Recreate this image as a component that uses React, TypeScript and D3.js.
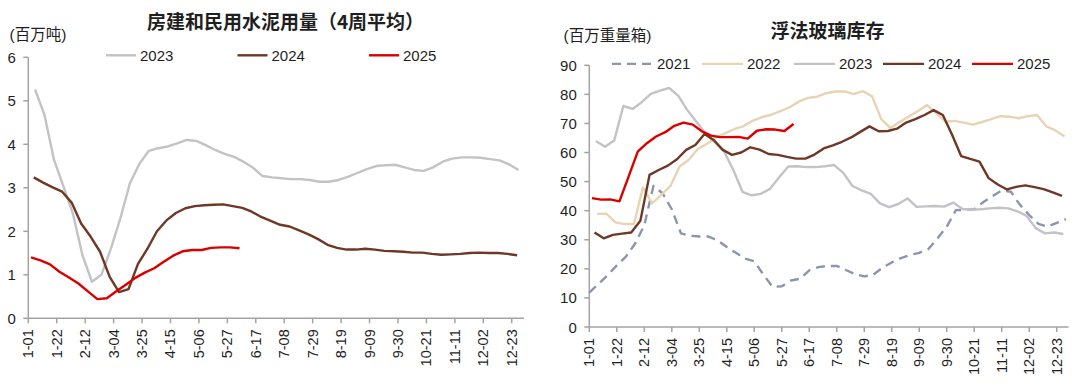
import * as d3 from 'd3'
import React from 'react'

// x axis: day of year (leap-year calendar), ticks every 3 weeks
const tickLabels = ['1-01', '1-22', '2-12', '3-04', '3-25', '4-15', '5-06', '5-27', '6-17', '7-08', '7-29', '8-19', '9-09', '9-30', '10-21', '11-11', '12-02', '12-23']

// cement usage, million tonnes, 4-week average (weekly readings)
const cementYears = ['2023', '2024', '2025']
const cementFirstDay = [5, 4, 2]
const cement2023 = [
  5.26, 4.67, 3.64, 3.03, 2.4, 1.45, 0.84, 1.0, 1.6, 2.3,
  3.1, 3.55, 3.85, 3.91, 3.95, 4.02, 4.1, 4.08, 3.98, 3.87,
  3.78, 3.71, 3.6, 3.46, 3.27, 3.24, 3.22, 3.2, 3.2, 3.18,
  3.14, 3.14, 3.18, 3.25, 3.34, 3.43, 3.5, 3.52, 3.53, 3.47,
  3.41, 3.39, 3.47, 3.6, 3.67, 3.7, 3.7, 3.69, 3.66, 3.63,
  3.54, 3.41,
]
const cement2024 = [
  3.24, 3.12, 3.01, 2.91, 2.66, 2.18, 1.88, 1.53, 0.96, 0.6,
  0.67, 1.25, 1.6, 2.0, 2.25, 2.42, 2.53, 2.58, 2.6, 2.61,
  2.62, 2.58, 2.54, 2.45, 2.33, 2.24, 2.15, 2.11, 2.02, 1.93,
  1.82, 1.69, 1.62, 1.58, 1.58, 1.6, 1.58, 1.55, 1.54, 1.53,
  1.51, 1.51, 1.48, 1.46, 1.47, 1.48, 1.5, 1.51, 1.5, 1.5,
  1.48, 1.45,
]
const cement2025 = [
  1.4, 1.33, 1.24, 1.07, 0.94, 0.8, 0.62, 0.44, 0.46, 0.62,
  0.77, 0.93, 1.05, 1.15, 1.3, 1.44, 1.54, 1.57, 1.57, 1.62,
  1.63, 1.63, 1.61,
]
const cementTicks = [0, 1, 2, 3, 4, 5, 6]

// float glass inventory, million weight cases
const glassYears = ['2021', '2022', '2023', '2024', '2025']
const glassFirstDay = [0, 6, 5, 4, 2]
const glass2021 = [
  11.8, 14.8, 17.8, 21.2, 24.2, 28.7, 35.0, 48.5, 46.0, 40.5,
  32.2, 31.4, 31.1, 31.1, 29.8, 27.5, 25.5, 23.5, 22.6, 18.0,
  13.8, 14.0, 16.0, 16.6, 19.5, 20.6, 21.0, 21.0, 19.6, 18.2,
  17.4, 18.0, 20.4, 22.2, 23.7, 24.8, 25.5, 26.8, 30.5, 34.5,
  40.2, 40.3, 40.5, 43.0, 45.0, 47.0, 46.5, 42.0, 38.5, 35.5,
  34.5, 35.8, 37.1,
]
const glass2022 = [
  38.9, 39.0, 36.0, 35.4, 35.4, 48.0, 42.5, 45.4, 48.5, 55.2,
  57.5, 61.3, 63.0, 65.2, 66.7, 68.1, 69.1, 71.0, 72.2, 73.0,
  74.2, 75.6, 77.5, 78.8, 79.2, 80.4, 81.0, 81.0, 80.1, 81.1,
  79.3, 71.5, 68.4, 70.5, 72.4, 74.3, 76.3, 73.5, 70.6, 70.9,
  70.3, 69.6, 70.5, 71.5, 72.5, 72.3, 71.8, 72.5, 72.9, 69.0,
  67.6, 65.5,
]
const glass2023 = [
  64.0, 62.0, 64.1, 76.0, 75.0, 77.3, 80.2, 81.3, 82.2, 79.5,
  74.5, 70.5, 66.5, 63.5, 60.3, 54.0, 46.5, 45.3, 45.8, 47.5,
  51.5, 55.2, 55.3, 55.0, 55.0, 55.3, 55.7, 53.0, 48.5, 47.0,
  45.8, 42.5, 41.2, 42.3, 44.2, 41.3, 41.5, 41.6, 41.4, 42.8,
  40.6, 40.3, 40.5, 40.8, 41.0, 40.8, 39.8, 38.2, 34.0, 32.2,
  32.5, 32.0,
]
const glass2024 = [
  32.5, 30.5, 31.7, 32.1, 32.5, 36.5, 52.3, 54.0, 55.5, 57.7,
  60.9, 62.6, 66.4, 64.3, 60.9, 59.2, 60.0, 61.8, 61.0, 59.5,
  59.2, 58.5, 57.9, 57.9, 59.3, 61.4, 62.5, 63.7, 65.2, 67.1,
  69.0, 67.3, 67.4, 68.2, 70.3, 71.5, 72.9, 74.6, 72.9, 66.2,
  58.8, 57.8, 56.9, 51.2, 49.0, 47.3, 48.2, 48.7, 48.1, 47.4,
  46.3, 45.1,
]
const glass2025 = [
  44.3, 43.8, 43.9, 43.2, 51.7, 60.3, 63.2, 65.5, 67.0, 69.2,
  70.3, 69.6, 67.3, 65.8, 65.3, 65.3, 65.4, 64.8, 67.5, 68.0,
  67.9, 67.4, 69.8,
]
const glassTicks = [0, 10, 20, 30, 40, 50, 60, 70, 80, 90]

const yearColor: Record<string, string> = {
  '2021': '#8b95ae',
  '2022': '#e8d3b3',
  '2023': '#c3c3c7',
  '2024': '#6f3726',
  '2025': '#da0000',
}

const NUM_FONT = '"Liberation Sans", Arial, "Noto Sans CJK SC", sans-serif'
const CJK_FONT = '"Noto Sans CJK SC", "Liberation Sans", sans-serif'
const AXIS = '#a3a3a3'
const TEXT = '#1f1f1f'

type Series = { name: string; firstDay: number; values: number[]; dashed?: boolean }

type PanelProps = {
  series: Series[]
  left: number
  right: number
  bottom: number
  top: number
  yTicks: number[]
  title: string
  titleX: number
  titleY: number
  unit: string
  unitX: number
  unitY: number
  legendX: number[]
  legendY: number
  legendLen: number
}

function Panel(p: PanelProps) {
  const x = d3.scaleLinear().domain([0, 366]).range([p.left, p.right])
  const y = d3
    .scaleLinear()
    .domain([0, d3.max(p.yTicks) as number])
    .range([p.bottom, p.top])

  const tickDays = tickLabels.map((_, i) => i * 21)

  return (
    <g>
      <text x={p.titleX} y={p.titleY} textAnchor="middle" dominantBaseline="central"
        fontFamily={CJK_FONT} fontWeight={700} fontSize={19} fill={TEXT}>
        {p.title}
      </text>
      <text x={p.unitX} y={p.unitY} dominantBaseline="central" fontFamily={NUM_FONT} fontSize={15.5} fill={TEXT}>
        {p.unit}
      </text>

      {/* legend */}
      {p.series.map((s, i) => (
        <g key={s.name}>
          <line x1={p.legendX[i]} x2={p.legendX[i] + p.legendLen} y1={p.legendY} y2={p.legendY}
            stroke={yearColor[s.name]} strokeWidth={2.4} strokeDasharray={s.dashed ? '9,6' : undefined} />
          <text x={p.legendX[i] + p.legendLen + 4} y={p.legendY} dominantBaseline="central"
            fontFamily={NUM_FONT} fontSize={15} fill={TEXT}>
            {s.name}
          </text>
        </g>
      ))}

      {/* y axis */}
      <line x1={p.left} x2={p.left} y1={y(d3.max(p.yTicks) as number)} y2={p.bottom} stroke={AXIS} strokeWidth={1.5} />
      {p.yTicks.map(t => (
        <g key={t}>
          <line x1={p.left - 5} x2={p.left} y1={y(t)} y2={y(t)} stroke={AXIS} strokeWidth={1.5} />
          <text x={p.left - 12.5} y={y(t)} textAnchor="end" dominantBaseline="central"
            fontFamily={NUM_FONT} fontSize={15} fill={TEXT}>
            {t}
          </text>
        </g>
      ))}

      {/* x axis */}
      <line x1={p.left} x2={p.right} y1={p.bottom} y2={p.bottom} stroke={AXIS} strokeWidth={1.5} />
      {tickDays.map((d, i) => (
        <g key={d}>
          <line x1={x(d)} x2={x(d)} y1={p.bottom} y2={p.bottom + 5} stroke={AXIS} strokeWidth={1.5} />
          <text transform={`translate(${x(d)},${p.bottom + 11}) rotate(-90)`} textAnchor="end"
            dominantBaseline="central" fontFamily={NUM_FONT} fontSize={14.5} fill={TEXT}>
            {tickLabels[i]}
          </text>
        </g>
      ))}

      {/* series */}
      {p.series.map(s => {
        const line = d3
          .line<number>()
          .x((_, i) => x(s.firstDay + 7 * i))
          .y(v => y(v))
        return (
          <path key={s.name} d={line(s.values) || ''} fill="none" stroke={yearColor[s.name]}
            strokeWidth={2.4} strokeLinejoin="round" strokeLinecap="butt"
            strokeDasharray={s.dashed ? '9,6' : undefined} />
        )
      })}
    </g>
  )
}

export default function App() {
  const cementValues = [cement2023, cement2024, cement2025]
  const cementSeries: Series[] = cementYears.map((name, i) => ({
    name,
    firstDay: cementFirstDay[i],
    values: cementValues[i],
  }))
  const glassValues = [glass2021, glass2022, glass2023, glass2024, glass2025]
  const glassSeries: Series[] = glassYears.map((name, i) => ({
    name,
    firstDay: glassFirstDay[i],
    values: glassValues[i],
    dashed: name === '2021',
  }))

  return (
    <div style={{ position: 'absolute', left: 0, top: 0 }}>
      <svg width={1080} height={386} style={{ display: 'block', background: '#fff' }}>
        <Panel
          series={cementSeries}
          left={28.3}
          right={523.9}
          bottom={318.3}
          top={57.3}
          yTicks={cementTicks}
          title="房建和民用水泥用量（4周平均）"
          titleX={285.5}
          titleY={20.5}
          unit="(百万吨)"
          unitX={9.5}
          unitY={34.5}
          legendX={[106, 237.5, 369]}
          legendY={55.3}
          legendLen={30}
        />
        <Panel
          series={glassSeries}
          left={589.3}
          right={1068.5}
          bottom={327}
          top={65.3}
          yTicks={glassTicks}
          title="浮法玻璃库存"
          titleX={827.5}
          titleY={29.4}
          unit="(百万重量箱)"
          unitX={563.5}
          unitY={35}
          legendX={[612, 702, 794, 883, 972]}
          legendY={63.9}
          legendLen={41}
        />
      </svg>
    </div>
  )
}
